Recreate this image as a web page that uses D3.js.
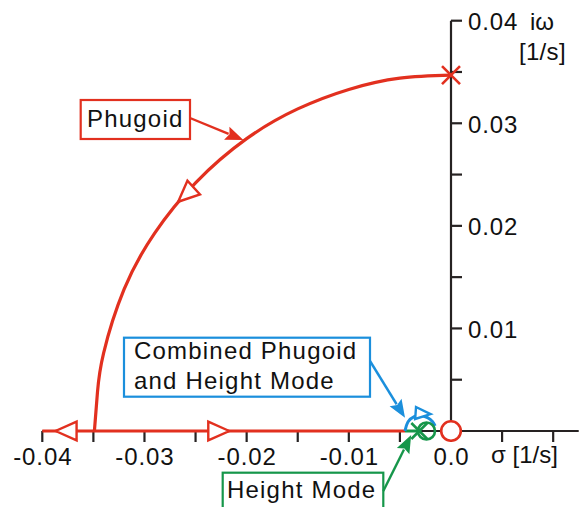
<!DOCTYPE html>
<html>
<head>
<meta charset="utf-8">
<script src="https://cdn.jsdelivr.net/npm/d3@7"></script>
<style>
  html, body { margin: 0; padding: 0; background: #fff; }
  svg { display: block; font-family: "Liberation Sans", Arial, Helvetica, sans-serif; }
</style>
</head>
<body>
<svg id="chart" width="579" height="507"></svg>
<script>
// ---- Axis ticks and labels ----
const sigmaTicks = [-0.04, -0.035, -0.03, -0.025, -0.02, -0.015, -0.01, -0.005, 0, 0.005, 0.01];
const sigmaLabelValues = [-0.04, -0.03, -0.02, -0.01, 0];
const sigmaLabelText = ["-0.04", "-0.03", "-0.02", "-0.01", "0.0"];
const omegaTicks = [0.005, 0.01, 0.015, 0.02, 0.025, 0.03, 0.035, 0.04];
const omegaLabelValues = [0.01, 0.02, 0.03, 0.04];
const omegaLabelText = ["0.01", "0.02", "0.03", "0.04"];

// ---- Root locus branches (sigma, omega in 1/s) ----
// Phugoid: complex pole travelling down to the real axis
const phugoidSigma = [0, -0.005, -0.010, -0.015, -0.020, -0.025, -0.029, -0.032, -0.034, -0.0346, -0.0349];
const phugoidOmega = [0.0347, 0.0344, 0.0333, 0.0314, 0.0285, 0.0242, 0.0193, 0.0138, 0.0076, 0.0038, 0];
// Real-axis part of the phugoid branch
const realAxisSigma = [-0.04, -0.0045];
const realAxisOmega = [0, 0];
// Height mode branch on the real axis
const heightSigma = [-0.0045, -0.0031];
const heightOmega = [0, 0];
// Combined phugoid / height mode loop
const combinedSigma = [-0.0045, -0.0042, -0.0036, -0.0030, -0.0023, -0.0018, -0.00155];
const combinedOmega = [0, 0.0009, 0.0014, 0.0015, 0.0013, 0.0009, 0.0005];

// Poles (x) and zeros (o)
const polesSigma = [0, -0.0031];
const polesOmega = [0.0347, 0];
const polesColor = ["red", "green"];
const zerosSigma = [-0.0024];
const zerosOmega = [0];
const zerosColor = ["green"];
const originZero = [0, 0];

// Direction arrows on the branches: tip position and heading (deg, screen)
const arrowSigma = [-0.0387, -0.0217, -0.0267, -0.0020];
const arrowOmega = [0, 0, 0.02235, 0.00165];
const arrowHeading = [180, 0, 137.6, 4];
const arrowColor = ["red", "red", "red", "blue"];

const colors = { red: "#e2301f", blue: "#1b8fdc", green: "#16964a", axis: "#262222" };

// ---- Scales ----
const x = d3.scaleLinear().domain([-0.04, 0]).range([42.3, 451]);
const y = d3.scaleLinear().domain([0, 0.04]).range([431, 20.7]);

const svg = d3.select("#chart");
const FONT = 24;
const LS = "0.9px";

// ---- Axes ----
const axisG = svg.append("g");
axisG.append("line")
  .attr("x1", x(-0.04)).attr("x2", x(0.0125))
  .attr("y1", y(0)).attr("y2", y(0))
  .attr("stroke", colors.axis).attr("stroke-width", 2.2);
axisG.append("line")
  .attr("x1", x(0)).attr("x2", x(0))
  .attr("y1", y(0)).attr("y2", y(0.04))
  .attr("stroke", colors.axis).attr("stroke-width", 2.2);

axisG.selectAll(".xt").data(sigmaTicks).join("line")
  .attr("x1", d => x(d)).attr("x2", d => x(d))
  .attr("y1", y(0)).attr("y2", y(0) + 11)
  .attr("stroke", colors.axis).attr("stroke-width", 2.2);
axisG.selectAll(".yt").data(omegaTicks).join("line")
  .attr("x1", x(0)).attr("x2", x(0) + 11)
  .attr("y1", d => y(d)).attr("y2", d => y(d))
  .attr("stroke", colors.axis).attr("stroke-width", 2.2);

axisG.selectAll(".xl").data(sigmaLabelValues).join("text")
  .attr("x", d => x(d) + 0.5).attr("y", y(0) + 34)
  .attr("text-anchor", "middle")
  .attr("font-size", FONT).attr("letter-spacing", LS).attr("fill", "#111")
  .text((d, i) => sigmaLabelText[i]);
axisG.selectAll(".yl").data(omegaLabelValues).join("text")
  .attr("x", x(0) + 17).attr("y", d => y(d) + 9.5)
  .attr("font-size", FONT).attr("letter-spacing", LS).attr("fill", "#111")
  .text((d, i) => omegaLabelText[i]);

// Axis titles
axisG.append("text").attr("x", 530).attr("y", 30)
  .attr("font-size", FONT).attr("fill", "#111").text("i\u03c9");
axisG.append("text").attr("x", 519).attr("y", 60)
  .attr("font-size", FONT).attr("letter-spacing", "0.3px").attr("fill", "#111").text("[1/s]");
axisG.append("text").attr("x", 491).attr("y", 463)
  .attr("font-size", FONT).attr("fill", "#111").text("\u03c3 [1/s]");

// ---- Locus branches ----
const lineSmooth = d3.line().x(d => x(d[0])).y(d => y(d[1])).curve(d3.curveNatural);
const lineStraight = d3.line().x(d => x(d[0])).y(d => y(d[1]));
const zip = (a, b) => a.map((v, i) => [v, b[i]]);

const locusG = svg.append("g").attr("fill", "none").attr("stroke-linecap", "butt");
locusG.append("path").attr("d", lineStraight(zip(realAxisSigma, realAxisOmega)))
  .attr("stroke", colors.red).attr("stroke-width", 3.2);
locusG.append("path").attr("d", lineSmooth(zip(phugoidSigma, phugoidOmega)))
  .attr("stroke", colors.red).attr("stroke-width", 3.2);
locusG.append("path").attr("d", lineStraight(zip(heightSigma, heightOmega)))
  .attr("stroke", colors.green).attr("stroke-width", 3);
locusG.append("path").attr("d", lineSmooth(zip(combinedSigma, combinedOmega)))
  .attr("stroke", colors.blue).attr("stroke-width", 3);

// ---- Direction arrowheads (open triangles) ----
svg.append("g").selectAll("path").data(arrowSigma).join("path")
  .attr("transform", (d, i) => `translate(${x(d)},${y(arrowOmega[i])}) rotate(${arrowHeading[i]})`)
  .attr("d", (d, i) => arrowColor[i] === "blue" ? "M0,0 L-15,-6 L-15,6 Z" : "M0,0 L-21,-9.3 L-21,9.3 Z")
  .attr("fill", "#fff")
  .attr("stroke", (d, i) => colors[arrowColor[i]])
  .attr("stroke-width", 2.4)
  .attr("stroke-linejoin", "miter");

// ---- Zeros and poles ----
svg.append("g").selectAll("circle").data(zerosSigma).join("circle")
  .attr("cx", d => x(d)).attr("cy", (d, i) => y(zerosOmega[i]))
  .attr("r", 8.5)
  .attr("fill", "none")
  .attr("stroke", (d, i) => colors[zerosColor[i]])
  .attr("stroke-width", 2.6);

const poleG = svg.append("g");
polesSigma.forEach((s, i) => {
  const cx = x(s), cy = y(polesOmega[i]), h = polesColor[i] === "red" ? 9 : 8;
  poleG.append("path")
    .attr("d", `M${cx - h},${cy - h}L${cx + h},${cy + h}M${cx - h},${cy + h}L${cx + h},${cy - h}`)
    .attr("stroke", colors[polesColor[i]]).attr("stroke-width", 2.6).attr("fill", "none");
});
// zero at the origin, drawn over the axes on a white fill
svg.append("circle").attr("cx", x(originZero[0])).attr("cy", y(originZero[1])).attr("r", 9.8)
  .attr("fill", "#fff").attr("stroke", colors.red).attr("stroke-width", 2.6);

// ---- Annotations: boxed labels with pointer arrows ----
const notes = [
  { lines: ["Phugoid"], color: "red", box: [80.7, 100, 109.3, 39], start: [190, 118],
    tip: [-0.02032, 0.02836], textX: 87, base: [127] },
  { lines: ["Combined Phugoid", "and Height Mode"], color: "blue", box: [124, 337.7, 246, 59], start: [370, 361],
    tip: [-0.0045, 0.00128], textX: 134, base: [359, 389] },
  { lines: ["Height Mode"], color: "green", box: [222.7, 472.7, 160.6, 45], start: [383.3, 491],
    tip: [-0.0039, -0.0004], textX: 227, base: [498] }
];

notes.forEach(n => {
  const g = svg.append("g");
  const c = colors[n.color];
  g.append("rect")
    .attr("x", n.box[0]).attr("y", n.box[1]).attr("width", n.box[2]).attr("height", n.box[3])
    .attr("fill", "#fff").attr("stroke", c).attr("stroke-width", 2.2);
  n.lines.forEach((t, i) => {
    g.append("text").attr("x", n.textX).attr("y", n.base[i])
      .attr("font-size", FONT).attr("letter-spacing", "1.2px").attr("fill", "#111").text(t);
  });
  const tx = x(n.tip[0]), ty = y(n.tip[1]);
  const ang = Math.atan2(ty - n.start[1], tx - n.start[0]);
  const L = 18;
  g.append("line")
    .attr("x1", n.start[0]).attr("y1", n.start[1])
    .attr("x2", tx - Math.cos(ang) * (L - 2)).attr("y2", ty - Math.sin(ang) * (L - 2))
    .attr("stroke", c).attr("stroke-width", 2.4);
  g.append("path")
    .attr("transform", `translate(${tx},${ty}) rotate(${ang * 180 / Math.PI})`)
    .attr("d", `M0,0 L${-L},-7 L${-L + 3},0 L${-L},7 Z`)
    .attr("fill", c);
});
</script>
</body>
</html>
